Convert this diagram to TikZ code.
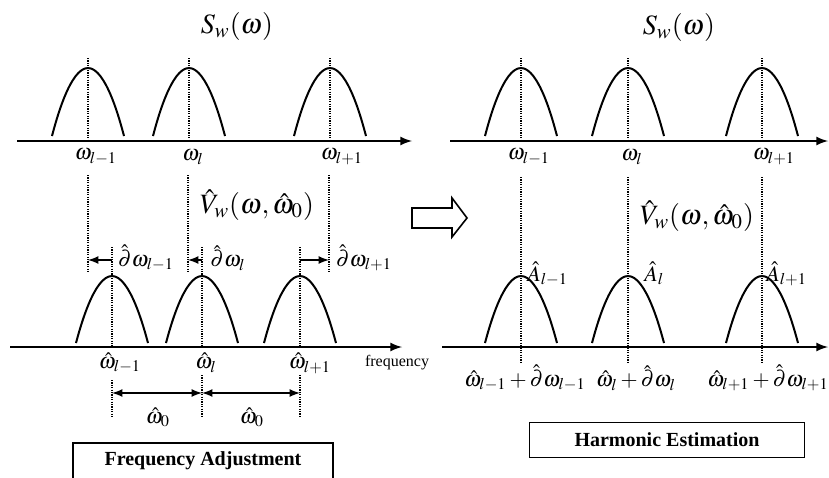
\documentclass[tikz,border=0pt]{standalone}
\usepackage{amsmath}
\usepackage{mathptmx}
\usepackage[no-math]{fontspec}
\setmainfont{Liberation Serif}
\usepackage{tikz}

\tikzset{
  freqaxis/.style={line width=1pt, -latex},
  bump/.style={line width=1pt},
  guide/.style={line width=0.6pt, dash pattern=on 0.6pt off 0.6pt},
  offsetarrow/.style={line width=0.8pt, -latex},
  spanarrow/.style={line width=0.8pt, latex-latex},
  lbl/.style={font=\fontsize{11}{13}\selectfont, inner sep=1pt},
  ttl/.style={font=\fontsize{14}{16}\selectfont, inner sep=0pt},
  stage/.style={draw, line width=0.8pt, font=\fontsize{10}{12}\selectfont\bfseries}
}

\begin{document}
\begin{tikzpicture}[x=0.5pt, y=-0.5pt]
    \useasboundingbox (0,0) rectangle (829,477);

    % left: frequency adjustment
    \node[ttl] (sl) at (237,26) {$S_w(\omega)$};
    \coordinate (la0) at (17,141);
    \coordinate (la1) at (412,141);
    \draw[freqaxis] (la0) -- (la1);
    \foreach \x in {88, 189, 330} {
        \draw[bump] (\x-36,136) parabola bend (\x,68) (\x+36,136);
        \draw[guide] (\x,58) -- (\x,141);
    }
    \node[lbl] (wa) at (96,157) {$\omega_{l-1}$};
    \node[lbl] (wb) at (193,157) {$\omega_{l}$};
    \node[lbl] (wc) at (342,157) {$\omega_{l+1}$};

    \coordinate (ga) at (88,260);
    \coordinate (gb) at (188,260);
    \coordinate (gc) at (329,260);
    \draw[guide] (88,175) -- (88,273);
    \draw[guide] (188,175) -- (188,273);
    \draw[guide] (329,175) -- (329,273);
    \node[ttl] (vl) at (257,205) {$\hat{V}_w(\omega,\hat{\omega}_0)$};

    \coordinate (lb0) at (10,347);
    \coordinate (lb1) at (402,347);
    \draw[freqaxis] (lb0) -- (lb1);
    \foreach \x in {112, 202, 300} {
        \draw[bump] (\x-36,343) parabola bend (\x,276) (\x+36,343);
        \draw[guide] (\x,247) -- (\x,347);
    }
    \coordinate (ha) at (112,260);
    \coordinate (hb) at (202,260);
    \coordinate (hc) at (300,260);
    \draw[offsetarrow] (ha) -- (ga);
    \draw[offsetarrow] (hb) -- (gb);
    \draw[offsetarrow] (hc) -- (gc);
    \node[lbl] (da) at (146,258) {$\hat{\partial}\omega_{l-1}$};
    \node[lbl] (db) at (228,258) {$\hat{\partial}\omega_{l}$};
    \node[lbl] (dc) at (364,258) {$\hat{\partial}\omega_{l+1}$};
    \node[font=\fontsize{8}{10}\selectfont, anchor=base west] (fq) at (358,366) {frequency};

    \node[lbl] (ea) at (120,363) {$\hat{\omega}_{l-1}$};
    \node[lbl] (eb) at (206,363) {$\hat{\omega}_{l}$};
    \node[lbl] (ec) at (310,363) {$\hat{\omega}_{l+1}$};
    \draw[guide] (112,380) -- (112,418);
    \draw[guide] (202,375) -- (202,417);
    \draw[guide] (300,375) -- (300,418);
    \coordinate (ka) at (112,393);
    \coordinate (kb) at (202,393);
    \coordinate (kc) at (300,393);
    \draw[spanarrow] (ka) -- (kb);
    \draw[spanarrow] (kb) -- (kc);
    \node[lbl] (oa) at (158,417) {$\hat{\omega}_0$};
    \node[lbl] (ob) at (252,417) {$\hat{\omega}_0$};

    % box runs past the lower edge, as in the figure
    \node[stage, minimum width=130pt, minimum height=18pt] (fa) at (203,461) {Frequency Adjustment};

    % hollow arrow between the stages
    \draw[line width=0.8pt] (412,208) -- (452,208) -- (452,198) -- (467,218)
        -- (452,237) -- (452,228) -- (412,228) -- cycle;

    % right: harmonic estimation
    \node[ttl] (sr) at (679,27) {$S_w(\omega)$};
    \coordinate (ra0) at (450,141);
    \coordinate (ra1) at (828,141);
    \draw[freqaxis] (ra0) -- (ra1);
    \foreach \x in {521, 628, 762} {
        \draw[bump] (\x-36,136) parabola bend (\x,68) (\x+36,136);
        \draw[guide] (\x,58) -- (\x,141);
        \draw[bump] (\x-36,343) parabola bend (\x,276) (\x+36,343);
        \draw[guide] (\x,177) -- (\x,362);
    }
    \node[lbl] (ra) at (529,157) {$\omega_{l-1}$};
    \node[lbl] (rb) at (632,157) {$\omega_{l}$};
    \node[lbl] (rc) at (774,157) {$\omega_{l+1}$};
    \node[ttl] (vr) at (697,216) {$\hat{V}_w(\omega,\hat{\omega}_0)$};

    \node[lbl, anchor=base west] (aa) at (525,281) {$\hat{A}_{l-1}$};
    \node[lbl, anchor=base west] (ab) at (642,281) {$\hat{A}_{l}$};
    \node[lbl, anchor=base west] (ac) at (764,281) {$\hat{A}_{l+1}$};

    \coordinate (rb0) at (442,347);
    \coordinate (rb1) at (828,347);
    \draw[freqaxis] (rb0) -- (rb1);
    \node[lbl] (ta) at (525,378) {$\hat{\omega}_{l-1}+\hat{\partial}\omega_{l-1}$};
    \node[lbl] (tb) at (636,378) {$\hat{\omega}_{l}+\hat{\partial}\omega_{l}$};
    \node[lbl] (tc) at (768,378) {$\hat{\omega}_{l+1}+\hat{\partial}\omega_{l+1}$};

    \node[stage, minimum width=137.5pt, minimum height=17.5pt] (he) at (667,440) {Harmonic Estimation};
\end{tikzpicture}
\end{document}
